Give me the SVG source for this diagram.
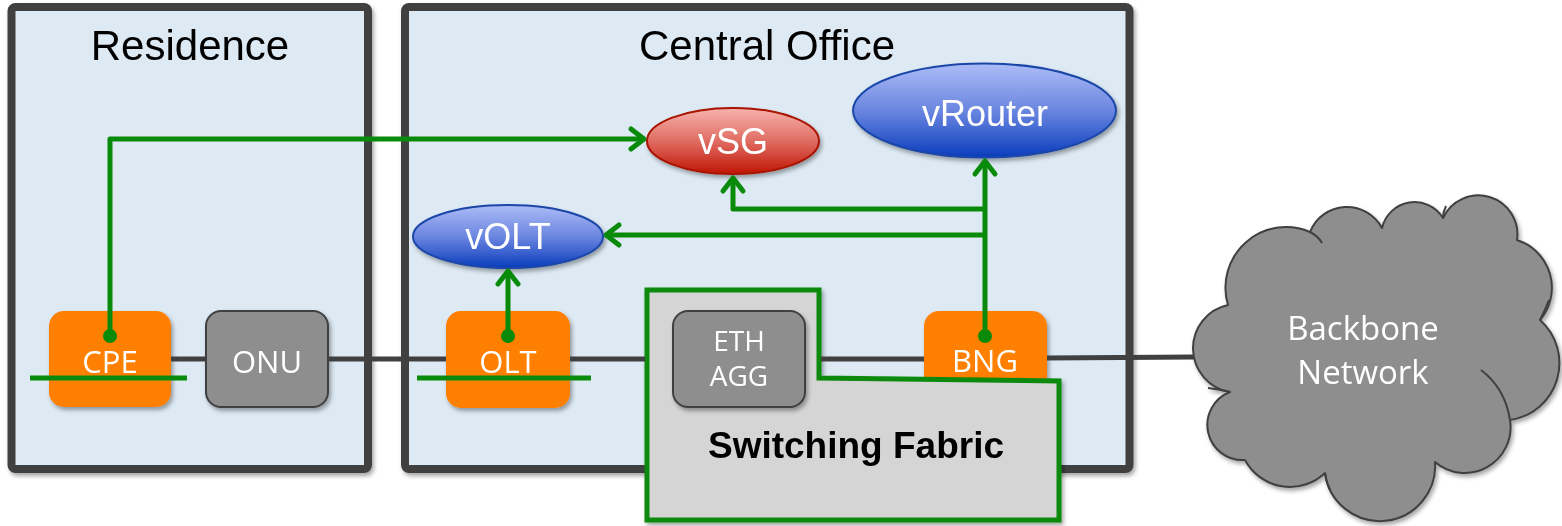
<svg xmlns="http://www.w3.org/2000/svg" width="1562" height="526" viewBox="0 0 1562 526">
  <defs>
    <filter id="shadow" x="-10%" y="-10%" width="125%" height="130%">
      <feDropShadow dx="2" dy="3" stdDeviation="2" flood-color="#000" flood-opacity="0.35"/>
    </filter>
    <linearGradient id="blueFill" x1="0" y1="0" x2="0" y2="1">
      <stop offset="0" stop-color="#adbcf7"/>
      <stop offset="0.5" stop-color="#6b86e0"/>
      <stop offset="1" stop-color="#0a3dbd"/>
    </linearGradient>
    <linearGradient id="redFill" x1="0" y1="0" x2="0" y2="1">
      <stop offset="0" stop-color="#f7b3ad"/>
      <stop offset="0.5" stop-color="#e06d63"/>
      <stop offset="1" stop-color="#c01504"/>
    </linearGradient>
    <marker id="arrow" markerUnits="userSpaceOnUse" markerWidth="30" markerHeight="30" viewBox="-20 -15 30 30" refX="0" refY="0" orient="auto">
      <path d="M -13 -10 L 0 0 L -13 10" fill="none" stroke="#0a8a0a" stroke-width="5" stroke-linecap="round" stroke-linejoin="round"/>
    </marker>
    <style>
      .region { fill: #dde9f3; stroke: #404040; stroke-width: 8; }
      .title { font-family: "Liberation Sans", Arial, sans-serif; font-size: 42px; fill: #000; text-anchor: middle; }
      .orange { fill: #ff7f00; }
      .grey { fill: #8e8e8e; stroke: #404040; stroke-width: 2; }
      .label { font-family: "Open Sans", "Noto Sans", sans-serif; font-size: 31px; fill: #fff; text-anchor: middle; }
      .small { font-size: 28px; }
      .cloudtext { font-size: 33px; }
      .vlabel { font-family: "Liberation Sans", Arial, sans-serif; font-size: 36px; fill: #fff; text-anchor: middle; }
      .blue { fill: url(#blueFill); stroke: #1a47a8; stroke-width: 2; }
      .red { fill: url(#redFill); stroke: #a81200; stroke-width: 2; }
      .wire { stroke: #404040; stroke-width: 5; fill: none; }
      .flow { stroke: #0a8a0a; stroke-width: 5; fill: none; stroke-linejoin: round; }
      .dot { fill: #0a8a0a; }
      .cloudline { fill: none; stroke: #404040; stroke-width: 2; }
    </style>
  </defs>

  <!-- enclosing regions -->
  <g id="residence" filter="url(#shadow)">
    <rect class="region" x="11.5" y="7" width="356.5" height="462" rx="4"/>
    <text class="title" x="190" y="60">Residence</text>
  </g>
  <g id="central-office" filter="url(#shadow)">
    <rect class="region" x="405" y="7" width="724.5" height="462" rx="4"/>
    <text class="title" x="767" y="60">Central Office</text>
  </g>

  <!-- physical devices -->
  <g id="cpe" filter="url(#shadow)">
    <rect class="orange" x="49" y="311" width="122" height="96" rx="15"/>
    <text class="label" x="110" y="373">CPE</text>
  </g>
  <g id="onu" filter="url(#shadow)">
    <rect class="grey" x="206" y="311" width="122" height="96" rx="15"/>
    <text class="label" x="267" y="373">ONU</text>
  </g>
  <g id="olt" filter="url(#shadow)">
    <rect class="orange" x="446" y="311" width="124" height="97" rx="15"/>
    <text class="label" x="508" y="373">OLT</text>
  </g>
  <g id="bng" filter="url(#shadow)">
    <rect class="orange" x="924" y="311" width="123" height="96" rx="15"/>
    <text class="label" x="985" y="372">BNG</text>
  </g>

  <!-- virtualised functions -->
  <g id="volt" filter="url(#shadow)">
    <ellipse class="blue" cx="508" cy="236.5" rx="95" ry="31.5"/>
    <text class="vlabel" x="508" y="249">vOLT</text>
  </g>
  <g id="vsg" filter="url(#shadow)">
    <ellipse class="red" cx="733" cy="141" rx="86" ry="33"/>
    <text class="vlabel" x="733" y="154">vSG</text>
  </g>
  <g id="vrouter" filter="url(#shadow)">
    <ellipse class="blue" cx="984.5" cy="110.5" rx="131.5" ry="47"/>
    <text class="vlabel" x="985" y="126">vRouter</text>
  </g>

  <!-- switching fabric, overlapping the BNG -->
  <g id="switching-fabric" filter="url(#shadow)">
    <path d="M 647 290 L 819 290 L 819 378 L 1059 381 L 1059 520 L 647 520 Z" fill="#d5d5d5" stroke="#0a8a0a" stroke-width="5" stroke-linejoin="miter"/>
    <text x="856" y="458" font-family="Liberation Sans, Arial, sans-serif" font-size="37" font-weight="bold" fill="#000" text-anchor="middle">Switching Fabric</text>
  </g>
  <g id="eth-agg" filter="url(#shadow)">
    <rect class="grey" x="673" y="311" width="132" height="96" rx="15"/>
    <text class="label small" x="739" y="351">ETH</text>
    <text class="label small" x="739" y="386">AGG</text>
  </g>

  <!-- backbone cloud -->
  <g id="backbone" filter="url(#shadow)">
    <path fill="#8e8e8e" stroke="#404040" stroke-width="2" stroke-linejoin="round"
      d="M 1228 305
         A 60.6 60.6 0 0 1 1310 232
         A 39.7 39.7 0 0 1 1382 228
         A 33.4 33.4 0 0 1 1443 218
         A 39 39 0 0 1 1517 240
         A 50 50 0 0 1 1540 320
         A 57.5 57.5 0 0 1 1510 420
         A 45.8 45.8 0 0 1 1435 462
         A 55.3 55.3 0 0 1 1325 473
         A 51 51 0 0 1 1245 460
         A 35.2 35.2 0 0 1 1230 392
         A 44.3 44.3 0 0 1 1228 305 Z"/>
    <path class="cloudline" d="M 1310 232 Q 1318 236 1322 243"/>
    <path class="cloudline" d="M 1443 218 Q 1443 212 1446 206"/>
    <path class="cloudline" d="M 1540 320 Q 1545 310 1549 300"/>
    <path class="cloudline" d="M 1510 420 Q 1505 388 1481 370"/>
    <path class="cloudline" d="M 1230 392 Q 1218 389 1208 388"/>
    <path class="cloudline" d="M 1325 473 Q 1326 482 1330 490"/>
    <text class="label cloudtext" x="1363" y="340">Backbone</text>
    <text class="label cloudtext" x="1363" y="384">Network</text>
  </g>

  <!-- links and control flows -->
  <g id="connectors">
    <line class="wire" x1="171" y1="359" x2="206" y2="359"/>
    <line class="wire" x1="328" y1="359" x2="446" y2="359"/>
    <line class="wire" x1="570" y1="359" x2="645" y2="359"/>
    <line class="wire" x1="821" y1="359" x2="924" y2="359"/>
    <line class="wire" x1="1047" y1="358" x2="1194" y2="357"/>

    <line class="flow" x1="30" y1="378" x2="187" y2="378"/>
    <line class="flow" x1="417" y1="378" x2="591" y2="378"/>

    <path class="flow" d="M 110 336 V 139 H 644" marker-end="url(#arrow)"/>
    <path class="flow" d="M 508 336 V 271" marker-end="url(#arrow)"/>
    <path class="flow" d="M 985 336 V 161" marker-end="url(#arrow)"/>
    <path class="flow" d="M 985 209 H 733 V 178" marker-end="url(#arrow)"/>
    <path class="flow" d="M 985 235 H 606" marker-end="url(#arrow)"/>

    <circle class="dot" cx="110" cy="336" r="7"/>
    <circle class="dot" cx="508" cy="336" r="7"/>
    <circle class="dot" cx="985" cy="336" r="7"/>
  </g>
</svg>
